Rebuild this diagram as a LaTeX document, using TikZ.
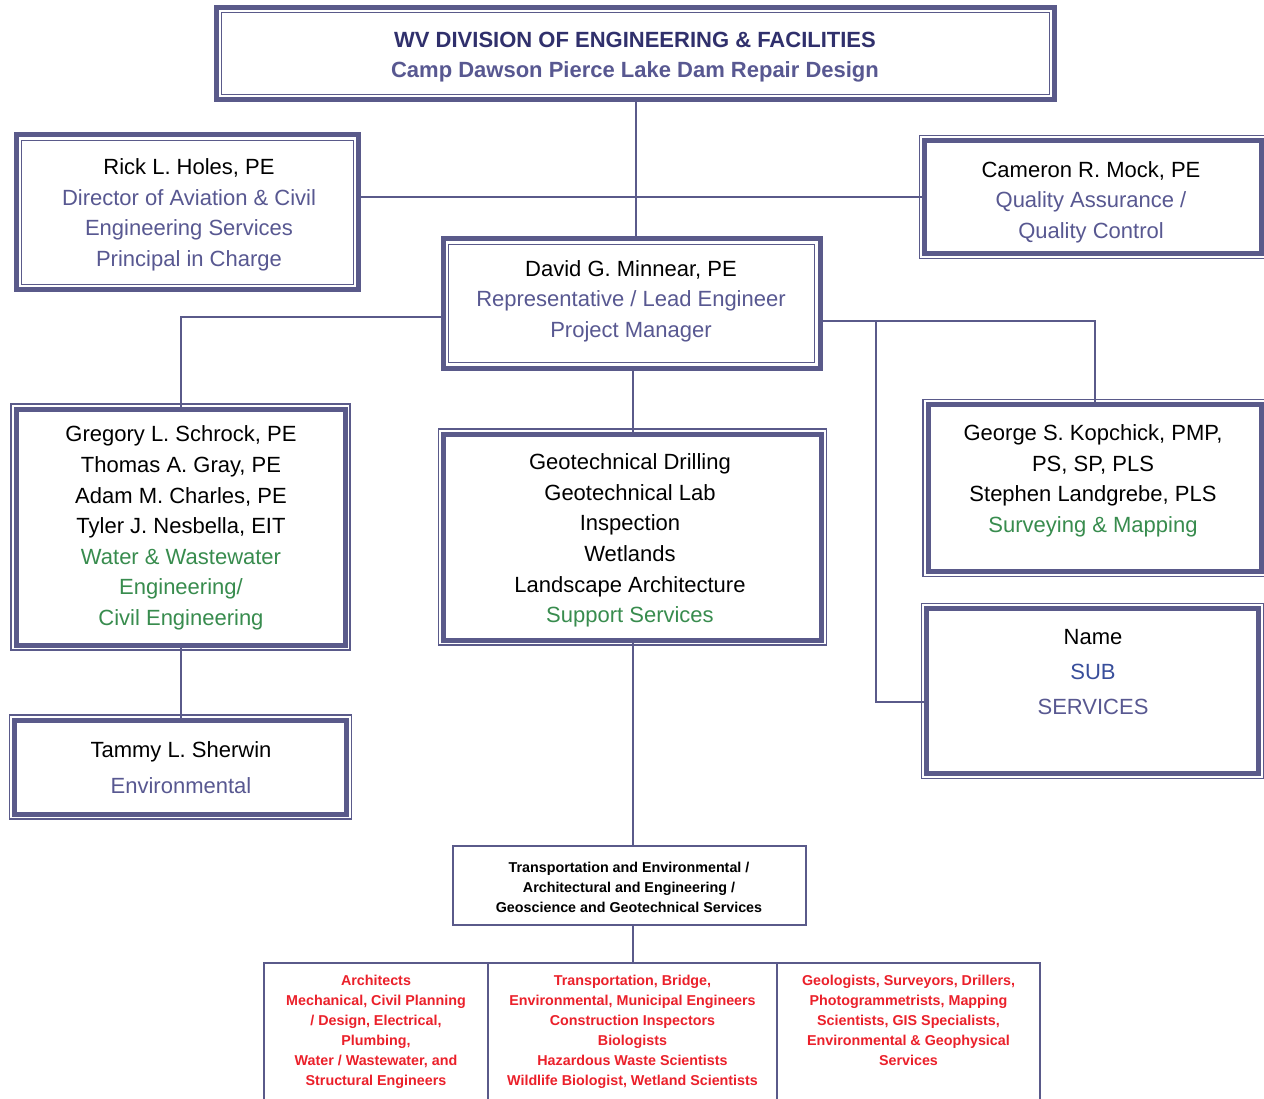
\documentclass[tikz,border=0pt]{standalone}
\usepackage{fontspec}
\setmainfont{Liberation Sans}
\usetikzlibrary{calc,positioning}

\definecolor{framecol}{RGB}{90,90,138}
\definecolor{rolecol}{RGB}{88,88,145}
\definecolor{titlecol}{RGB}{48,48,108}
\definecolor{greencol}{RGB}{56,140,78}
\definecolor{subcol}{RGB}{56,78,155}
\definecolor{redcol}{RGB}{235,32,42}

\newcommand{\bodyfont}{\fontsize{22}{30.6}\selectfont}
\newcommand{\titlefont}{\fontsize{22}{30}\selectfont\bfseries}
\newcommand{\smallfont}{\fontsize{14.3}{20}\selectfont\bfseries}

\tikzset{
  frame/.style={draw=framecol, line width=5pt, fill=white, inner sep=0pt},
  cell/.style={draw=framecol, line width=2pt, fill=white, inner sep=0pt},
  rim/.style={draw=framecol, line width=1.3pt},
  txt/.style={align=center, inner sep=0pt, font=\bodyfont},
  small/.style={align=center, inner sep=0pt, font=\smallfont},
  link/.style={draw=framecol, line width=2pt}
}

\begin{document}
\begin{tikzpicture}[x=1pt, y=-1pt]
  \clip (0,0) rectangle (1264,1099);
  \fill[white] (0,0) rectangle (1264,1099);

  % boxes
  \node[frame, minimum width=838, minimum height=92] (top) at (635.5,53.5) {};
  \node[frame, minimum width=342, minimum height=155] (rick) at (187.5,212.5) {};
  \node[frame, minimum width=337, minimum height=113] (cameron) at (1093,197) {};
  \node[frame, minimum width=377, minimum height=129] (david) at (631.5,303.5) {};
  \node[frame, minimum width=329, minimum height=236] (gregory) at (180.5,527) {};
  \node[frame, minimum width=332, minimum height=94] (tammy) at (180.5,767) {};
  \node[frame, minimum width=378, minimum height=206] (geo) at (632.5,537) {};
  \node[frame, minimum width=333, minimum height=167] (george) at (1094.5,488) {};
  \node[frame, minimum width=332, minimum height=165] (name) at (1092.5,691) {};
  \node[cell, minimum width=353, minimum height=79] (trans) at (629.5,885.5) {};
  \node[cell, anchor=north west, minimum width=224, minimum height=160] (arch) at (263,962) {};
  \node[cell, anchor=north west, minimum width=289, minimum height=160] (eng) at (487,962) {};
  \node[cell, anchor=north west, minimum width=263, minimum height=160] (geosci) at (776,962) {};

  % second thin line of the frames
  \foreach \b in {top,rick,david}
    \draw[rim] ([shift={(7.8,7.8)}]\b.north west) rectangle ([shift={(-7.8,-7.8)}]\b.south east);
  \foreach \b in {cameron,gregory,tammy,geo,george,name}
    \draw[rim] ([shift={(-2.4,-2.4)}]\b.north west) rectangle ([shift={(2.4,2.4)}]\b.south east);

  % texts
  \node[txt, font=\titlefont] (toptxt) at (635,57.5)
    {\textcolor{titlecol}{WV DIVISION OF ENGINEERING \& FACILITIES}\\
     \textcolor{rolecol}{Camp Dawson Pierce Lake Dam Repair Design}};
  \node[txt] (ricktxt) at (189,215)
    {Rick L. Holes, PE\\
     \textcolor{rolecol}{Director of Aviation \& Civil}\\
     \textcolor{rolecol}{Engineering Services}\\
     \textcolor{rolecol}{Principal in Charge}};
  \node[txt] (camerontxt) at (1091,202)
    {Cameron R. Mock, PE\\
     \textcolor{rolecol}{Quality Assurance /}\\
     \textcolor{rolecol}{Quality Control}};
  \node[txt] (davidtxt) at (631,301)
    {David G. Minnear, PE\\
     \textcolor{rolecol}{Representative / Lead Engineer}\\
     \textcolor{rolecol}{Project Manager}};
  \node[txt] (gregorytxt) at (181,528)
    {Gregory L. Schrock, PE\\
     Thomas A. Gray, PE\\
     Adam M. Charles, PE\\
     Tyler J. Nesbella, EIT\\
     \textcolor{greencol}{Water \& Wastewater}\\
     \textcolor{greencol}{Engineering/}\\
     \textcolor{greencol}{Civil Engineering}};
  \node[txt] (tammytxt) at (181,768)
    {Tammy L. Sherwin\\[5.5pt]
     \textcolor{rolecol}{Environmental}};
  \node[txt] (geotxt) at (630,540.5)
    {Geotechnical Drilling\\
     Geotechnical Lab\\
     Inspection\\
     Wetlands\\
     Landscape Architecture\\
     \textcolor{greencol}{Support Services}};
  \node[txt] (georgetxt) at (1093,481)
    {George S. Kopchick, PMP,\\
     PS, SP, PLS\\
     Stephen Landgrebe, PLS\\
     \textcolor{greencol}{Surveying \& Mapping}};
  \node[txt] (nametxt) at (1093,672)
    {Name\\[4.5pt]
     \textcolor{subcol}{SUB}\\[4.5pt]
     \textcolor{rolecol}{SERVICES}};
  \node[small] (transtxt) at (629,887)
    {Transportation and Environmental /\\
     Architectural and Engineering /\\
     Geoscience and Geotechnical Services};
  \node[small, text=redcol, below=12.5pt of arch.north] (archtxt)
    {Architects\\
     Mechanical, Civil Planning\\
     / Design, Electrical,\\
     Plumbing,\\
     Water / Wastewater, and\\
     Structural Engineers};
  \node[small, text=redcol, below=12.5pt of eng.north] (engtxt)
    {Transportation, Bridge,\\
     Environmental, Municipal Engineers\\
     Construction Inspectors\\
     Biologists\\
     Hazardous Waste Scientists\\
     Wildlife Biologist, Wetland Scientists};
  \node[small, text=redcol, below=12.5pt of geosci.north] (geoscitxt)
    {Geologists, Surveyors, Drillers,\\
     Photogrammetrists, Mapping\\
     Scientists, GIS Specialists,\\
     Environmental \& Geophysical\\
     Services};

  % links
  \coordinate (split) at ($(david.east)+(53,18)$);
  \draw[link] (top.south) -- (top.south |- david.north);
  \draw[link] (rick.east |- cameron.west) -- (cameron.west);
  \draw[link] ($(david.west)+(0,14)$) -| (gregory.north);
  \draw[link] ($(david.east)+(0,18)$) -| (george.north);
  \draw[link] (split) |- ($(name.west)+(0,11)$);
  \draw[link] (geo.north) -- (geo.north |- david.south);
  \draw[link] (gregory.south) -- (gregory.south |- tammy.north);
  \draw[link] (geo.south) -- (geo.south |- trans.north);
  \draw[link] (eng.north) -- (eng.north |- trans.south);
\end{tikzpicture}
\end{document}
